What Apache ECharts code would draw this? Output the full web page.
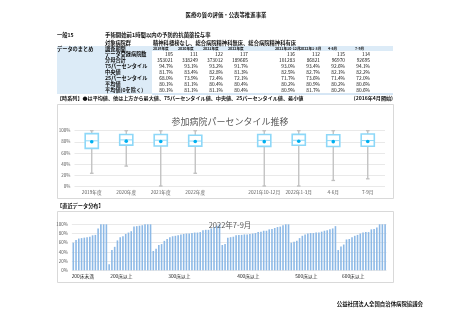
<!DOCTYPE html>
<html><head><meta charset="utf-8">
<script src="https://cdn.jsdelivr.net/npm/echarts@6/dist/echarts.min.js"></script>
<style>html,body{margin:0;padding:0;background:#fff}#c{width:452px;height:320px}</style>
</head><body><div id="c"></div>
<script>
const FONT = '"Noto Sans CJK JP", "Noto Sans", sans-serif';

// ---- table / summary data ----
const periods = ['2019年度','2020年度','2021年度','2022年度','2021年10-12月','2022年1-3月','4-6月','7-9月'];
const hospitals = [105,111,122,117,116,112,115,114];
const denominators = [353021,338249,373012,189665,101283,86821,96970,92695];
const p75 = [94.7,93.1,93.2,91.7,93.0,93.4,92.6,94.1];
const median = [81.7,83.4,82.8,81.3,82.5,82.7,82.1,82.2];
const p25 = [68.0,73.9,72.4,72.1,71.7,73.6,71.4,72.0];
const mean = [80.1,81.1,80.4,80.4,80.2,80.9,80.2,80.6];
const meanNonZero = [80.1,81.1,81.1,80.4,80.9,81.7,80.2,80.6];

// ---- box plot data ----
const boxCategories = ['2019年度','2020年度','2021年度','2022年度','','2021年10-12月','2022年1-3月','4-6月','7-9月'];
const boxMin = [23,36,0,23,0,0,10,13];
const boxMax = [100,100,100,100,100,100,100,100];
const yTickLabels = ['0%','20%','40%','60%','80%','100%'];

// ---- latest distribution (2022年7-9月) ----
const groupNames = ['200床未満','200床以上','300床以上','400床以上','500床以上','600床以上'];
const bedsUnder200 = [60,66,69,70,71,72,73,76,77,91,100,100,100];
const beds200 = [13,44,51,65,72,74,79,82,85,95,96,97,98,100,100,100];
const beds300 = [42,47,55,57,64,68,72,74,75,76,78,79,80,80,81,82,82,83,87,88,88,91,94,97,100];
const beds400 = [55,57,71,72,73,76,77,77,78,78,79,80,81,83,84,86,86,89,90,92,94,95,98,100,100];
const beds500 = [60,62,64,70,75,78,80,81,81,82,82,84,86,87,89,91,96];
const beds600 = [44,52,56,67,68,72,75,77,80,82,83,83,89,90,93,100,100,100];

const groups = [bedsUnder200, beds200, beds300, beds400, beds500, beds600];
const barValues = [].concat(...groups);
const barCats = barValues.map((_, i) => String(i + 1));
const labelIdx = {};
let start = 0;
groups.forEach((g, k) => { labelIdx[start + Math.floor((g.length - 1) / 2)] = groupNames[k]; start += g.length; });

const boxData = periods.map((p, k) => [p, boxMin[k], p25[k], median[k], p75[k], boxMax[k], mean[k]]);

function renderBox(params, api) {
  const x = api.value(0);
  const c = v => api.coord([x, v]);
  const pMin = c(api.value(1)), pQ1 = c(api.value(2)), pMed = c(api.value(3)),
        pQ3 = c(api.value(4)), pMax = c(api.value(5)), pMean = c(api.value(6));
  const cx = pMin[0];
  const hw = api.size([1, 0])[0] * 0.19;
  const cap = 1.8;
  const wStyle = { stroke: '#bfbfbf', lineWidth: 1.3 };
  return { type: 'group', children: [
    { type: 'line', shape: { x1: cx, y1: pMax[1], x2: cx, y2: pMin[1] }, style: wStyle },
    { type: 'line', shape: { x1: cx - cap, y1: pMax[1], x2: cx + cap, y2: pMax[1] }, style: wStyle },
    { type: 'line', shape: { x1: cx - cap, y1: pMin[1], x2: cx + cap, y2: pMin[1] }, style: wStyle },
    { type: 'rect', shape: { x: cx - hw, y: pQ3[1], width: 2 * hw, height: pQ1[1] - pQ3[1] },
      style: { fill: '#fff', stroke: '#8ed8f8', lineWidth: 1.6 } },
    { type: 'line', shape: { x1: cx - hw, y1: pMed[1], x2: cx + hw, y2: pMed[1] }, style: { stroke: '#8ed8f8', lineWidth: 1 } },
    { type: 'circle', shape: { cx: cx, cy: pMean[1], r: 1.8 }, style: { fill: '#00b0f0' } }
  ]};
}

// ---- graphic texts ----
const g = [];
function t(x, y, text, o) {
  o = o || {};
  g.push({ type: 'text', x: x, y: y, z: 10, style: {
    text: text, fontFamily: FONT, fontSize: o.size || 5.2, fontWeight: o.weight || 'normal',
    fill: o.color || '#111', textAlign: o.align || 'left', textVerticalAlign: 'middle' } });
}
function r(x, y, w, h, fill, stroke) {
  g.push({ type: 'rect', z: 0, shape: { x: x, y: y, width: w, height: h },
    style: { fill: fill || 'none', stroke: stroke || null, lineWidth: 1 } });
}
// table backgrounds
r(57, 46, 95, 48, '#dcebf7');
r(152, 46, 241, 5, '#dcebf7');
g.push({ type: 'line', z: 1, shape: { x1: 152, y1: 94, x2: 393, y2: 94 }, style: { stroke: '#9bc2e6', lineWidth: 0.8 } });
// chart frames
r(57.5, 104.5, 336, 94, null, '#d9d9d9');
r(57.5, 211.5, 336, 71, null, '#d9d9d9');

t(226, 15, '医療の質の評価・公表等推進事業', { align: 'center', weight: 'bold', size: 5.4 });
t(57, 35, '一般15', { weight: 'bold' });
t(105, 35, '手術開始前1時間以内の予防的抗菌薬投与率', { weight: 'bold', size: 5.4 });
t(105, 42.7, '対象病院群', { weight: 'bold' });
t(153, 42.7, '精神科標榜なし、総合病院精神科無床、総合病院精神科有床', { weight: 'bold', size: 5.3 });
t(57, 48.7, 'データのまとめ', { weight: 'bold' });
t(105, 48.7, '調査期間', { weight: 'bold' });
const hdrX = [153, 178, 203, 228, 275, 300, 328, 355];
const valX = [173, 198, 223, 248, 295, 320, 345, 370];
periods.forEach((p, k) => t(hdrX[k], 48.7, p, { size: 3.6, weight: 'bold' }));
const rowLabels = ['データ登録病院数','分母合計','75パーセンタイル','中央値','25パーセンタイル','平均値','平均値(0を除く)'];
const pct = v => v.toFixed(1) + '%';
const rows = [hospitals.map(String), denominators.map(String), p75.map(pct), median.map(pct), p25.map(pct), mean.map(pct), meanNonZero.map(pct)];
rowLabels.forEach((lab, i) => {
  const y = 54 + 6 * i;
  t(105, y, lab, { weight: 'bold' });
  rows[i].forEach((v, k) => t(valX[k], y, v, { align: 'right', size: 4.8 }));
});
t(57, 97.7, '【時系列】●は平均値、他は上方から最大値、75パーセンタイル値、中央値、25パーセンタイル値、最小値', { weight: 'bold', size: 5.1 });
t(393, 97.7, '(2016年4月開始)', { align: 'right', weight: 'bold', size: 5.1 });
t(57, 206, '【直近データ分布】', { weight: 'bold', size: 5.2 });
t(423, 304, '公益社団法人全国自治体病院協議会', { align: 'right', weight: 'bold', size: 5.4 });

const chart = echarts.init(document.getElementById('c'), null, { renderer: 'canvas' });
const axisLab = { fontFamily: FONT, fontSize: 4.5, color: '#595959' };
chart.setOption({
  animation: false,
  backgroundColor: '#fff',
  title: [
    { text: '参加病院パーセンタイル推移', left: 225, top: 112, textAlign: 'center',
      textStyle: { fontFamily: FONT, fontSize: 9, fontWeight: 'normal', color: '#595959' } },
    { text: '2022年7-9月', left: 225, top: 216, textAlign: 'center',
      textStyle: { fontFamily: FONT, fontSize: 7.5, fontWeight: 'normal', color: '#595959' } }
  ],
  grid: [
    { left: 74.5, top: 130.7, width: 310.5, height: 55.3 },
    { left: 71.9, top: 224.3, width: 314.6, height: 46 }
  ],
  xAxis: [
    { type: 'category', gridIndex: 0, data: boxCategories, axisLine: { show: false }, axisTick: { show: false },
      axisLabel: Object.assign({ margin: 4, interval: 0, fontSize: 4.7 }, { fontFamily: FONT, color: '#595959' }) },
    { type: 'category', gridIndex: 1, data: barCats, axisLine: { show: false }, axisTick: { show: false },
      axisLabel: { interval: i => labelIdx[i] !== undefined, margin: 3, fontFamily: FONT, fontSize: 4.8, color: '#222',
        formatter: (v, i) => '{a|' + (labelIdx[i] || '') + '}',
        rich: { a: { fontFamily: FONT, fontSize: 4.8, color: '#222', padding: [0, 14, 0, 0] } } } }
  ],
  yAxis: [
    { type: 'value', gridIndex: 0, min: 0, max: 100, interval: 20,
      axisLabel: Object.assign({ margin: 4, formatter: v => yTickLabels[v / 20] }, axisLab),
      splitLine: { lineStyle: { color: '#e3e3e3', width: 0.8 } } },
    { type: 'value', gridIndex: 1, min: 0, max: 100, interval: 20,
      axisLabel: Object.assign({ margin: 4, formatter: v => yTickLabels[v / 20] }, axisLab),
      splitLine: { lineStyle: { color: '#e3e3e3', width: 0.8 } } }
  ],
  graphic: g,
  series: [
    { type: 'custom', xAxisIndex: 0, yAxisIndex: 0, renderItem: renderBox,
      encode: { x: 0, y: [1, 2, 3, 4, 5, 6] }, data: boxData, z: 5 },
    { type: 'bar', xAxisIndex: 1, yAxisIndex: 1, data: barValues, barWidth: 1.6,
      itemStyle: { color: '#8db9e6' }, z: 5 }
  ]
});
</script></body></html>
